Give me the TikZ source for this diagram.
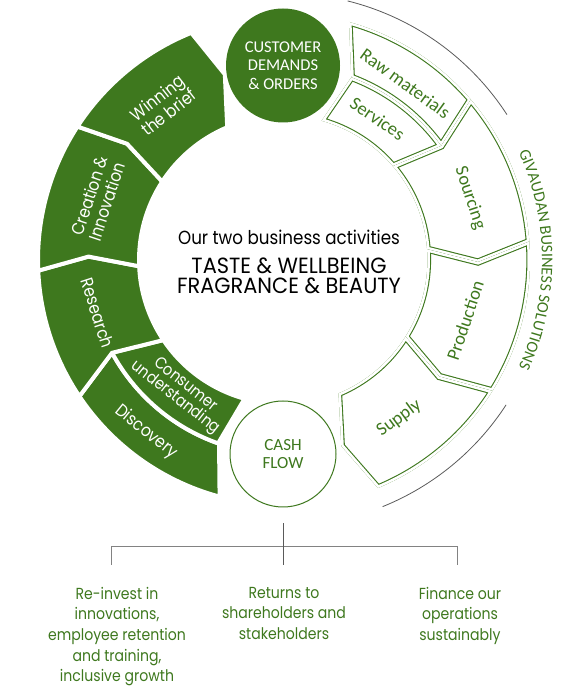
\documentclass[tikz,border=0pt]{standalone}
\usepackage{fontspec}
\usetikzlibrary{decorations.text}
\newfontfamily\geofont[FakeStretch=0.88]{Poppins}
\newfontfamily\geocaps[FakeStretch=0.95]{Poppins}
\newfontfamily\calfont{Carlito}
\definecolor{brand}{RGB}{62,120,30}
\definecolor{combgray}{RGB}{130,130,130}
\definecolor{stemgray}{RGB}{90,90,90}

% one outlined ring segment: inner half of a thick stroke, white gap on the rim
\newcommand{\outlineseg}[1]{%
  \begin{scope}
    \clip #1;
    \draw[brand, line width=7.2pt] #1;
    \draw[white, line width=5pt] #1;
  \end{scope}}

\tikzset{
  greenseg/.style={fill=brand, draw=white, line width=4pt},
  whitelabel/.style={text=white, font=\geofont\fontsize{17.5}{18.5}\selectfont, align=center},
  greenlabel/.style={text=brand, font=\calfont\fontsize{18.5}{19}\selectfont, align=center},
  bottomtext/.style={text=brand, font=\geofont\fontsize{16}{20.6}\selectfont, align=center,
                     anchor=north, inner sep=0pt},
  thinarc/.style={draw=stemgray, line width=0.8pt},
  combline/.style={draw=combgray, line width=1pt},
}

\begin{document}
\begin{tikzpicture}[x=1pt, y=1pt]
\useasboundingbox (0,0) rectangle (565,691);

\begin{scope}[shift={(283,431)}]
% green half: Discovery / Consumer understanding / Research / Creation / Winning
\path[greenseg] (255:245) arc[start angle=255, end angle=213.8, radius=245]
  -- (208.5:194.5) arc[start angle=208.5, end angle=250.8, radius=194.5] -- cycle;
\path[greenseg] (208.5:194.5) -- (213.8:144) arc[start angle=213.8, end angle=254.5, radius=144]
  -- (250.5:194.5) arc[start angle=250.5, end angle=208.5, radius=194.5] -- cycle;
\path[greenseg] (213.8:245) arc[start angle=213.8, end angle=182.5, radius=245]
  -- (179:194.5) -- (182.5:144) arc[start angle=182.5, end angle=213.8, radius=144]
  -- (208.5:194.5) -- cycle;
\path[greenseg] (182.5:245) arc[start angle=182.5, end angle=147, radius=245]
  -- (143.3:194.5) -- (147:144) arc[start angle=147, end angle=182.5, radius=144]
  -- (179:194.5) -- cycle;
\path[greenseg] (147:245) arc[start angle=147, end angle=112, radius=245]
  -- (107.4:194.5) -- (112.8:144) arc[start angle=112.8, end angle=147, radius=144]
  -- (143.3:194.5) -- cycle;

% outlined half: Raw materials / Services / Sourcing / Production / Supply
\outlineseg{(74.5:247) arc[start angle=74.5, end angle=40.5, radius=247]
  -- (35.8:195) arc[start angle=35.8, end angle=69.5, radius=195] -- cycle}
\outlineseg{(35.8:195) -- (40.5:144.5) arc[start angle=40.5, end angle=74.5, radius=144.5]
  -- (69.5:195) arc[start angle=69.5, end angle=35.8, radius=195] -- cycle}
\outlineseg{(40.5:247) arc[start angle=40.5, end angle=4.3, radius=247]
  -- (-0.6:195) -- (4.3:144.5) arc[start angle=4.3, end angle=40.5, radius=144.5]
  -- (35.8:195) -- cycle}
\outlineseg{(4.3:247) arc[start angle=4.3, end angle=-32, radius=247]
  -- (-36.7:195) -- (-32:144.5) arc[start angle=-32, end angle=4.3, radius=144.5]
  -- (-0.6:195) -- cycle}
\outlineseg{(-32:247) arc[start angle=-32, end angle=-67.4, radius=247]
  -- (-72.6:195) -- (-67.4:144.5) arc[start angle=-67.4, end angle=-32, radius=144.5]
  -- (-36.7:195) -- cycle}

% segment labels
\node[whitelabel, rotate=38] (brief) at (127.7:196) {Winning\\the brief};
\node[whitelabel, rotate=71.6] (creation) at (161.6:195) {Creation \&\\Innovation};
\node[whitelabel, rotate=-72] (research) at (196:193) {Research};
\node[whitelabel, rotate=-38, font=\geofont\fontsize{16.5}{16.5}\selectfont] (consumer) at (232:167)
  {Consumer\\understanding};
\node[whitelabel, rotate=-39] (discovery) at (231.5:220) {Discovery};
\node[greenlabel, rotate=-36] (raw) at (55.3:215) {Raw materials};
\node[greenlabel, rotate=-34] (services) at (56.2:170) {Services};
\node[greenlabel, rotate=-71.7] (sourcing) at (18.3:197) {Sourcing};
\node[greenlabel, rotate=71.6] (production) at (-18.4:192) {Production};
\node[greenlabel, rotate=36.3] (supply) at (-53.7:196) {Supply};

% the two circles
\node[circle, fill=brand, minimum size=114pt, text=white, align=center,
      font=\calfont\fontsize{16.5}{18.5}\selectfont] (customer) at (90:194.5)
  {CUSTOMER\\DEMANDS\\\& ORDERS};
\node[circle, draw=brand, line width=1pt, fill=white, minimum size=106pt, text=brand,
      align=center, font=\calfont\fontsize{17}{18}\selectfont] (cash) at (270:194)
  {CASH\\FLOW};

% centre
\node[font=\geofont\fontsize{19}{20}\selectfont] (activities) at (6,23) {Our two business activities};
\node[align=center, font=\geocaps\fontsize{22}{19.5}\selectfont] (units) at (6,-16)
  {TASTE \& WELLBEING\\FRAGRANCE \& BEAUTY};

% outer rim
\draw[thinarc] (76:267) arc[start angle=76, end angle=33, radius=267];
\draw[thinarc] (-33:266) arc[start angle=-33, end angle=-68, radius=266];
\path[decorate, decoration={text along path, text align=center,
  text={|\calfont\fontsize{16.3}{18}\selectfont\color{brand}|GIVAUDAN BUSINESS SOLUTIONS}}]
  (26:259) arc[start angle=26, end angle=-26, radius=259];
\end{scope}

% cash flow split
\node[bottomtext] (reinvest) at (117,104) {Re-invest in\\innovations,\\employee retention\\and training,\\inclusive growth};
\node[bottomtext] (returns) at (284,104) {Returns to\\shareholders and\\stakeholders};
\node[bottomtext] (finance) at (460,104) {Finance our\\operations\\sustainably};

\coordinate (combL) at (111,126);
\coordinate (combM) at (283,126);
\coordinate (combR) at (457,126);
\draw[combline] (combL) -- ++(0,18) -| (combR);
\draw[combline, draw=stemgray] ([yshift=-16pt]cash.south) -- (combM);

\end{tikzpicture}
\end{document}
